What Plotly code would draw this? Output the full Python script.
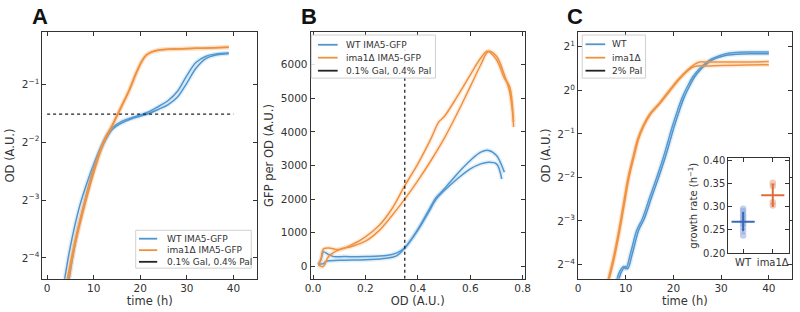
import plotly.graph_objects as go

# ---------------- data ----------------
# Panel A: OD (log2 exponent) vs time (h), 0.1% Gal, 0.4% Pal
A_wt1_t = [3.5, 5, 7, 9, 10, 12, 13, 14, 16, 18, 20, 22, 24, 26, 28, 30, 32, 34, 36, 39]
A_wt1_l2 = [-4.5, -3.8, -3.1, -2.6, -2.38, -2.0, -1.85, -1.75, -1.64, -1.58, -1.53, -1.47, -1.38, -1.28, -1.12, -0.85, -0.62, -0.52, -0.48, -0.46]
A_wt2_t = [4.5, 6, 8, 10, 12, 14, 16, 18, 20, 22, 24, 26, 28, 30, 32, 34, 36, 39]
A_wt2_l2 = [-4.5, -3.75, -3.05, -2.45, -2.05, -1.78, -1.67, -1.6, -1.55, -1.5, -1.43, -1.35, -1.22, -0.98, -0.72, -0.56, -0.5, -0.47]
A_ko1_t = [4.0, 6, 8, 10, 12, 14, 16, 17.6, 19, 20.3, 21.2, 22.2, 24, 28, 32, 36, 39]
A_ko1_l2 = [-4.5, -3.7, -3.05, -2.48, -2.02, -1.7, -1.37, -1.1, -0.82, -0.6, -0.5, -0.45, -0.41, -0.39, -0.38, -0.37, -0.36]
A_ko2_t = [4.3, 6.2, 8.2, 10.2, 12.1, 14.1, 16.1, 17.7, 19.1, 20.4, 21.3, 22.3, 24.1, 28, 32, 36, 39]
A_ko2_l2 = [-4.5, -3.7, -3.05, -2.48, -2.02, -1.7, -1.37, -1.1, -0.82, -0.6, -0.5, -0.45, -0.41, -0.39, -0.38, -0.37, -0.36]
A_threshold_od = 0.35
A_legend_labels = ["WT IMA5-GFP", "ima1Δ IMA5-GFP", "0.1% Gal, 0.4% Pal"]

# Panel B: GFP per OD vs OD
B_wt1_od = [0.02, 0.03, 0.04, 0.06, 0.08, 0.12, 0.2, 0.28, 0.32, 0.35, 0.4, 0.44, 0.47, 0.5, 0.55, 0.6, 0.64, 0.67, 0.7, 0.72, 0.73]
B_wt1_g = [50, 200, 430, 350, 290, 290, 290, 320, 400, 550, 1100, 1650, 2050, 2300, 2750, 3150, 3400, 3450, 3300, 3000, 2800]
B_wt2_od = [0.02, 0.03, 0.04, 0.05, 0.1, 0.2, 0.28, 0.32, 0.35, 0.4, 0.44, 0.47, 0.5, 0.55, 0.6, 0.64, 0.67, 0.7, 0.72]
B_wt2_g = [50, 70, 80, 150, 180, 200, 240, 320, 550, 1080, 1600, 2000, 2250, 2600, 2900, 3050, 3100, 3050, 2600]
B_ko1_od = [0.02, 0.03, 0.04, 0.06, 0.1, 0.15, 0.2, 0.25, 0.3, 0.35, 0.4, 0.45, 0.48, 0.5, 0.55, 0.6, 0.64, 0.665, 0.7, 0.73, 0.75, 0.765]
B_ko1_g = [50, 200, 520, 550, 500, 650, 880, 1200, 1700, 2400, 3050, 3800, 4300, 4450, 5050, 5700, 6200, 6400, 6150, 5600, 5350, 4150]
B_ko2_od = [0.02, 0.03, 0.04, 0.06, 0.1, 0.15, 0.2, 0.25, 0.3, 0.35, 0.4, 0.45, 0.5, 0.55, 0.6, 0.64, 0.67, 0.7, 0.73, 0.75, 0.765]
B_ko2_g = [50, 0, 0, 300, 500, 600, 750, 1050, 1500, 2000, 2550, 3150, 3800, 4550, 5350, 6000, 6400, 6250, 5700, 5200, 4300]
B_threshold_od = 0.35
B_threshold_span = [-370, 6450]
B_legend_labels = ["WT IMA5-GFP", "ima1Δ IMA5-GFP", "0.1% Gal, 0.4% Pal"]

# Panel C: OD (log2 exponent) vs time (h), 2% Pal
C_ko1_t = [6.2, 7.2, 7.6, 8.5, 9.5, 10.5, 11.6, 12.5, 13.6, 15, 17, 19, 21, 23, 24.5, 25.5, 27, 30, 35, 40]
C_ko1_l2 = [-4.4, -3.95, -3.75, -3.25, -2.62, -2.0, -1.5, -1.12, -0.82, -0.55, -0.3, -0.02, 0.25, 0.47, 0.6, 0.65, 0.65, 0.65, 0.65, 0.66]
C_ko2_t = [6.4, 7.4, 7.8, 8.7, 9.7, 10.7, 11.8, 12.7, 13.8, 15.2, 17.2, 19.2, 21.2, 23, 24, 25, 27, 30, 35, 40]
C_ko2_l2 = [-4.4, -3.95, -3.75, -3.25, -2.62, -2.0, -1.5, -1.12, -0.82, -0.55, -0.3, -0.02, 0.25, 0.45, 0.53, 0.56, 0.56, 0.57, 0.58, 0.59]
C_wt1_t = [8.0, 8.8, 9.5, 10, 11, 12.3, 13.5, 15, 16.5, 17.8, 18.8, 19.8, 20.9, 21.9, 23, 24, 25.3, 26.7, 28, 29.5, 31, 33, 36, 40]
C_wt1_l2 = [-4.4, -4.15, -4.05, -4.1, -3.75, -3.22, -2.95, -2.47, -2.0, -1.57, -1.2, -0.82, -0.45, -0.15, 0.1, 0.3, 0.48, 0.62, 0.72, 0.79, 0.84, 0.87, 0.88, 0.88]
C_wt2_t = [8.4, 9.2, 9.9, 10.4, 11.4, 12.7, 13.9, 15.4, 16.9, 18.2, 19.2, 20.2, 21.3, 22.3, 23.4, 24.4, 25.7, 27.1, 28.4, 29.9, 31.4, 33.4, 36, 40]
C_wt2_l2 = [-4.4, -4.15, -4.05, -4.1, -3.75, -3.22, -2.95, -2.47, -2.0, -1.57, -1.2, -0.82, -0.45, -0.15, 0.1, 0.3, 0.48, 0.62, 0.71, 0.77, 0.81, 0.83, 0.84, 0.84]
C_legend_labels = ["WT", "ima1Δ", "2% Pal"]

# Inset: growth rates
inset_categories = ["WT", "ima1Δ"]
inset_wt_points = [0.296, 0.291, 0.284, 0.279, 0.273, 0.268, 0.263, 0.256, 0.247, 0.238]
inset_ko_points = [0.352, 0.345, 0.31, 0.303]
inset_means = [0.268, 0.325]
inset_sds = [0.021, 0.025]

log2_ticks = [-4, -3, -2, -1, 0, 1]

# ---------------- style ----------------
BLUE = "#4f96d0"
BLUE_BAND = "rgba(120,175,222,0.2)"
ORANGE = "#f0913f"
ORANGE_BAND = "rgba(245,165,90,0.2)"
BLACK = "#222222"
FONT = "DejaVu Sans"
W, H = 800, 312


def px_x(a, b):
    return [a / W, b / W]


def px_y(top, bottom):
    return [1 - bottom / H, 1 - top / H]


fig = go.Figure()


def od(vals):
    return [2 ** v for v in vals]


def add_rep(x, y, color, band, xa, ya):
    fig.add_trace(go.Scatter(x=x, y=y, mode="lines", line=dict(color=band, width=4.5, shape="spline"),
                             xaxis=xa, yaxis=ya, showlegend=False, hoverinfo="skip"))
    fig.add_trace(go.Scatter(x=x, y=y, mode="lines", line=dict(color=color, width=1.5, shape="spline"),
                             xaxis=xa, yaxis=ya, showlegend=False))


def add_legend(box, line_x, rows_y, text_x, labels):
    x0, y0, x1, y1 = box
    fig.add_shape(type="rect", xref="paper", yref="paper", x0=x0 / W, x1=x1 / W, y0=1 - y1 / H, y1=1 - y0 / H,
                  line=dict(color="#d0d0d0", width=1), fillcolor="rgba(255,255,255,0.85)", layer="above")
    for yy, lab, col in zip(rows_y, labels, [BLUE, ORANGE, BLACK]):
        fig.add_shape(type="line", xref="paper", yref="paper", x0=line_x[0] / W, x1=line_x[1] / W,
                      y0=1 - yy / H, y1=1 - yy / H, line=dict(color=col, width=1.8), layer="above")
        fig.add_annotation(text=lab, x=text_x / W, y=1 - yy / H, xref="paper", yref="paper", showarrow=False,
                           xanchor="left", yanchor="middle", font=dict(family=FONT, size=9, color="#333"))


# Panel A
add_rep(A_wt1_t, od(A_wt1_l2), BLUE, BLUE_BAND, "x", "y")
add_rep(A_wt2_t, od(A_wt2_l2), BLUE, BLUE_BAND, "x", "y")
add_rep(A_ko1_t, od(A_ko1_l2), ORANGE, ORANGE_BAND, "x", "y")
add_rep(A_ko2_t, od(A_ko2_l2), ORANGE, ORANGE_BAND, "x", "y")
fig.add_trace(go.Scatter(x=[0, 40], y=[A_threshold_od, A_threshold_od], mode="lines",
                         line=dict(color="#222", width=1.3, dash="dot"), xaxis="x", yaxis="y", showlegend=False))
add_legend((131.7, 234, 249, 273), (135, 153.5), [242.7, 254.5, 266.5], 161, A_legend_labels)

# Panel B
add_rep(B_wt1_od, B_wt1_g, BLUE, BLUE_BAND, "x2", "y2")
add_rep(B_wt2_od, B_wt2_g, BLUE, BLUE_BAND, "x2", "y2")
add_rep(B_ko1_od, B_ko1_g, ORANGE, ORANGE_BAND, "x2", "y2")
add_rep(B_ko2_od, B_ko2_g, ORANGE, ORANGE_BAND, "x2", "y2")
fig.add_trace(go.Scatter(x=[B_threshold_od, B_threshold_od], y=B_threshold_span, mode="lines",
                         line=dict(color="#222", width=1.3, dash="dot"), xaxis="x2", yaxis="y2", showlegend=False))
add_legend((310, 33, 436, 77.3), (316.7, 336.7), [43, 56.3, 69.7], 342.7, B_legend_labels)

# Panel C
add_rep(C_wt1_t, od(C_wt1_l2), BLUE, BLUE_BAND, "x3", "y3")
add_rep(C_wt2_t, od(C_wt2_l2), BLUE, BLUE_BAND, "x3", "y3")
add_rep(C_ko1_t, od(C_ko1_l2), ORANGE, ORANGE_BAND, "x3", "y3")
add_rep(C_ko2_t, od(C_ko2_l2), ORANGE, ORANGE_BAND, "x3", "y3")
add_legend((585, 33, 649.3, 77.3), (588.3, 608.3), [42.5, 56.3, 69.7], 613.3, C_legend_labels)

# Inset
fig.add_trace(go.Scatter(x=[0] * len(inset_wt_points), y=inset_wt_points, mode="markers",
                         marker=dict(color="rgba(120,150,215,0.45)", size=6.5), xaxis="x4", yaxis="y4",
                         showlegend=False))
fig.add_trace(go.Scatter(x=[1] * len(inset_ko_points), y=inset_ko_points, mode="markers",
                         marker=dict(color="rgba(225,140,100,0.45)", size=6.5), xaxis="x4", yaxis="y4",
                         showlegend=False))
for i, col in enumerate(["#3a6ab5", "#df6d3c"]):
    fig.add_trace(go.Scatter(x=[i], y=[inset_means[i]], mode="markers", marker=dict(size=0.1, color=col),
                             error_y=dict(type="data", array=[inset_sds[i]], color=col, thickness=2, width=0),
                             error_x=dict(type="data", array=[0.39], color=col, thickness=2, width=0),
                             xaxis="x4", yaxis="y4", showlegend=False))

axis_common = dict(showline=True, linecolor="#333", linewidth=1, mirror="ticks", ticks="inside",
                   ticklen=4, tickcolor="#333", showgrid=False, zeroline=False,
                   tickfont=dict(family=FONT, size=10.5, color="#333"),
                   title_font=dict(family=FONT, size=11.5, color="#333"))
inset_axis = dict(axis_common)
inset_axis["tickfont"] = dict(family=FONT, size=10, color="#333")
inset_axis["title_font"] = dict(family=FONT, size=10, color="#333")

log_ticktext = ["2<sup>−4</sup>", "2<sup>−3</sup>", "2<sup>−2</sup>", "2<sup>−1</sup>", "2<sup>0</sup>", "2<sup>1</sup>"]

L2 = 0.30103
fig.update_layout(
    width=W, height=H, margin=dict(l=0, r=0, t=0, b=0),
    paper_bgcolor="white", plot_bgcolor="white", showlegend=False,
    xaxis=dict(domain=px_x(37, 255), range=[-1, 45.1], tickvals=[0, 10, 20, 30, 40],
               title=dict(text="time (h)", standoff=2), anchor="y", **axis_common),
    yaxis=dict(domain=px_y(30, 284), type="log", range=[-4.36 * L2, -0.1 * L2],
               tickvals=[2 ** v for v in log2_ticks], ticktext=log_ticktext,
               title=dict(text="OD (A.U.)", standoff=4), anchor="x", **axis_common),
    xaxis2=dict(domain=px_x(309.3, 526.7), range=[-0.009, 0.808], tickvals=[0, 0.2, 0.4, 0.6, 0.8],
                tickformat=".1f", title=dict(text="OD (A.U.)", standoff=2), anchor="y2", **axis_common),
    yaxis2=dict(domain=px_y(30, 284), range=[-370, 6970], tickvals=[0, 1000, 2000, 3000, 4000, 5000, 6000],
                title=dict(text="GFP per OD (A.U.)", standoff=4), anchor="x2", **axis_common),
    xaxis3=dict(domain=px_x(580.7, 797.7), range=[0, 44.8], tickvals=[0, 10, 20, 30, 40],
                title=dict(text="time (h)", standoff=2), anchor="y3", **axis_common),
    yaxis3=dict(domain=px_y(30, 284), type="log", range=[-4.33 * L2, 1.337 * L2],
                tickvals=[2 ** v for v in log2_ticks], ticktext=log_ticktext,
                title=dict(text="OD (A.U.)", standoff=4), anchor="x3", **axis_common),
    xaxis4=dict(domain=px_x(733.3, 795), range=[-0.5, 1.55], tickvals=[0, 1], ticktext=inset_categories,
                anchor="y4", **inset_axis),
    yaxis4=dict(domain=px_y(160, 257.5), range=[0.2, 0.405], tickvals=[0.2, 0.25, 0.3, 0.35, 0.4],
                tickformat=".2f", title=dict(text="growth rate (h<sup>−1</sup>)", standoff=3),
                anchor="x4", **inset_axis),
)

for letter, xc in [("A", 35), ("B", 308), ("C", 578)]:
    fig.add_annotation(text="<b>%s</b>" % letter, x=xc / W, y=1 - 14 / H, xref="paper", yref="paper",
                       showarrow=False, xanchor="center", yanchor="middle",
                       font=dict(family="Liberation Sans", size=22, color="#111"))

fig.write_html("out.html")
